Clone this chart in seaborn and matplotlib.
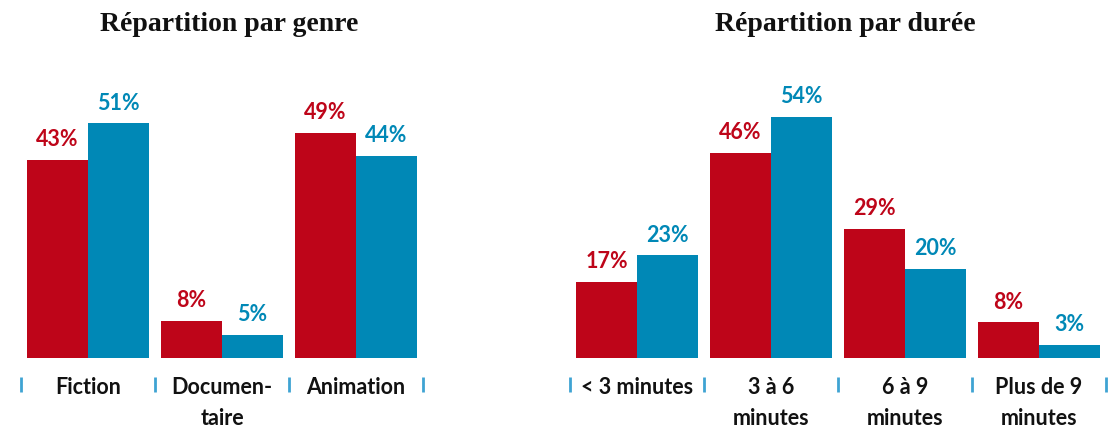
import pandas as pd
import numpy as np
import matplotlib
matplotlib.use("Agg")
import matplotlib.pyplot as plt
import seaborn as sns

# Data
genres = ["Fiction", "Documen-\ntaire", "Animation"]
genre_rouge = [43, 8, 49]
genre_bleu = [51, 5, 44]

durees = ["< 3 minutes", "3 à 6\nminutes", "6 à 9\nminutes", "Plus de 9\nminutes"]
duree_rouge = [17, 46, 29, 8]
duree_bleu = [23, 54, 20, 3]

series = ["rouge", "bleu"]
couleurs = {"rouge": "#BE0519", "bleu": "#0088B6"}
tick_color = "#3FA3D3"

sns.set_theme(style="white")
plt.rcParams["font.family"] = ["Lato", "DejaVu Sans"]

W, H = 1119, 430
fig = plt.figure(figsize=(W / 100, H / 100), dpi=100)


def to_df(cats, rouge, bleu):
    return pd.DataFrame({
        "categorie": cats * 2,
        "valeur": rouge + bleu,
        "serie": ["rouge"] * len(cats) + ["bleu"] * len(cats),
    })


def panel(rect, cats, rouge, bleu, ymax, title, title_x):
    ax = fig.add_axes(rect)
    df = to_df(cats, rouge, bleu)
    sns.barplot(data=df, x="categorie", y="valeur", hue="serie",
                hue_order=series, palette=couleurs, order=cats,
                width=0.91, gap=0, saturation=1, legend=False,
                linewidth=0, ax=ax)
    ax.set_xlim(-0.5, len(cats) - 0.5)
    ax.set_ylim(0, ymax)
    sns.despine(ax=ax, left=True, bottom=True)
    ax.set_yticks([])
    ax.set_xlabel("")
    ax.set_ylabel("")
    ax.tick_params(axis="x", length=0, pad=14)
    for lab in ax.get_xticklabels():
        lab.set_fontsize(15.5)
        lab.set_fontweight("bold")
        lab.set_color("#111111")
        lab.set_linespacing(1.55)
        lab.set_verticalalignment("top")

    for cont, s in zip(ax.containers, series):
        ax.bar_label(cont, fmt="%g%%", padding=7, color=couleurs[s],
                     fontsize=15.5, fontweight="bold")

    # small blue separators between categories
    h_px = rect[3] * H
    bounds = np.arange(len(cats) + 1) - 0.5
    ax.vlines(bounds, -19 / h_px, -34 / h_px, transform=ax.get_xaxis_transform(),
              colors=tick_color, linewidth=2, clip_on=False)

    fig.text(title_x / W, 1 - 31 / H, title, ha="center", va="baseline",
             fontsize=20, fontweight="bold", family="Liberation Serif",
             color="#111111")
    return ax


base = 72 / H
panel([21 / W, base, 402 / W, 60 * 4.6 / H], genres, genre_rouge, genre_bleu, 60,
      "Répartition par genre", 229)
panel([570 / W, base, 536 / W, 60 * 4.46 / H], durees, duree_rouge, duree_bleu, 60,
      "Répartition par durée", 845)

fig.savefig("out.png", dpi=100)
